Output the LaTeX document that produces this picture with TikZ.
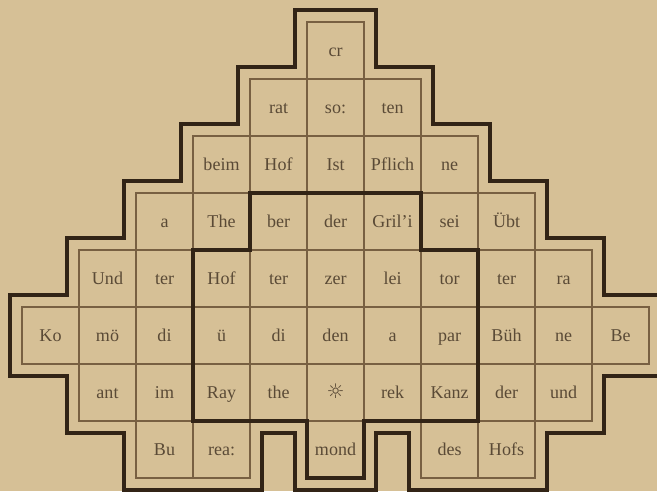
\documentclass[tikz,border=0pt]{standalone}
\usepackage{fontspec}
\setmainfont{Liberation Serif}
\newfontfamily\symfont{DejaVu Sans}
\usepackage{xcolor}
\usetikzlibrary{backgrounds}
\definecolor{paper}{RGB}{214,192,150}
\definecolor{ink}{RGB}{50,36,22}
\definecolor{rule}{RGB}{120,96,66}
\definecolor{type}{RGB}{90,74,54}
\tikzset{
  cell/.style={draw=rule,line width=0.6pt,minimum width=1cm,minimum height=1cm,inner sep=0pt,text height=1.5ex,text depth=0.3ex,text=type,font=\fontsize{9}{10}\selectfont},
  rim/.style={draw=ink,line width=2pt,line join=miter},
  core/.style={draw=ink,line width=2.2pt,line join=miter},
}
\newcommand\rimgap{0.21}

\begin{document}
\begin{tikzpicture}[x=1cm,y=1cm]
\fill[paper] (-0.386,0.386) rectangle (11.14,-8.228);
\useasboundingbox (-0.386,0.386) rectangle (11.14,-8.228);
\foreach \c/\w in {5/cr} \node[cell] (c0-\c) at (\c+0.5,-0.5) {\w};
\foreach \c/\w in {4/rat,5/so:,6/ten} \node[cell] (c1-\c) at (\c+0.5,-1.5) {\w};
\foreach \c/\w in {3/beim,4/Hof,5/Ist,6/Pflich,7/ne} \node[cell] (c2-\c) at (\c+0.5,-2.5) {\w};
\foreach \c/\w in {2/a,3/The,4/ber,5/der,6/Gril'i,7/sei,8/Übt} \node[cell] (c3-\c) at (\c+0.5,-3.5) {\w};
\foreach \c/\w in {1/Und,2/ter,3/Hof,4/ter,5/zer,6/lei,7/tor,8/ter,9/ra} \node[cell] (c4-\c) at (\c+0.5,-4.5) {\w};
\foreach \c/\w in {0/Ko,1/mö,2/di,3/ü,4/di,5/den,6/a,7/par,8/Büh,9/ne,10/Be} \node[cell] (c5-\c) at (\c+0.5,-5.5) {\w};
\foreach \c/\w in {1/ant,2/im,3/Ray,4/the,6/rek,7/Kanz,8/der,9/und} \node[cell] (c6-\c) at (\c+0.5,-6.5) {\w};
\node[cell] (c6-5) at (5.5,-6.5) {\symfont\fontsize{10}{10}\selectfont ☼};
\foreach \c/\w in {2/Bu,3/rea:,5/mond,7/des,8/Hofs} \node[cell] (c7-\c) at (\c+0.5,-7.5) {\w};
\draw[rim] (5-\rimgap,\rimgap) -- (6+\rimgap,\rimgap) -- (6+\rimgap,-1+\rimgap) -- (7+\rimgap,-1+\rimgap)
  -- (7+\rimgap,-2+\rimgap) -- (8+\rimgap,-2+\rimgap) -- (8+\rimgap,-3+\rimgap) -- (9+\rimgap,-3+\rimgap)
  -- (9+\rimgap,-4+\rimgap) -- (10+\rimgap,-4+\rimgap) -- (10+\rimgap,-5+\rimgap) -- (11+\rimgap,-5+\rimgap)
  -- (11+\rimgap,-6-\rimgap) -- (10+\rimgap,-6-\rimgap) -- (10+\rimgap,-7-\rimgap) -- (9+\rimgap,-7-\rimgap)
  -- (9+\rimgap,-8-\rimgap) -- (7-\rimgap,-8-\rimgap) -- (7-\rimgap,-7-\rimgap) -- (6+\rimgap,-7-\rimgap)
  -- (6+\rimgap,-8-\rimgap) -- (5-\rimgap,-8-\rimgap) -- (5-\rimgap,-7-\rimgap) -- (4+\rimgap,-7-\rimgap)
  -- (4+\rimgap,-8-\rimgap) -- (2-\rimgap,-8-\rimgap) -- (2-\rimgap,-7-\rimgap) -- (1-\rimgap,-7-\rimgap)
  -- (1-\rimgap,-6-\rimgap) -- (-\rimgap,-6-\rimgap) -- (-\rimgap,-5+\rimgap) -- (1-\rimgap,-5+\rimgap)
  -- (1-\rimgap,-4+\rimgap) -- (2-\rimgap,-4+\rimgap) -- (2-\rimgap,-3+\rimgap) -- (3-\rimgap,-3+\rimgap)
  -- (3-\rimgap,-2+\rimgap) -- (4-\rimgap,-2+\rimgap) -- (4-\rimgap,-1+\rimgap) -- (5-\rimgap,-1+\rimgap) -- cycle;
\draw[core] (4,-3) -- (7,-3) -- (7,-4) -- (8,-4) -- (8,-7) -- (6,-7) -- (6,-8) -- (5,-8) -- (5,-7) -- (3,-7) -- (3,-4) -- (4,-4) -- cycle;
\end{tikzpicture}
\end{document}
